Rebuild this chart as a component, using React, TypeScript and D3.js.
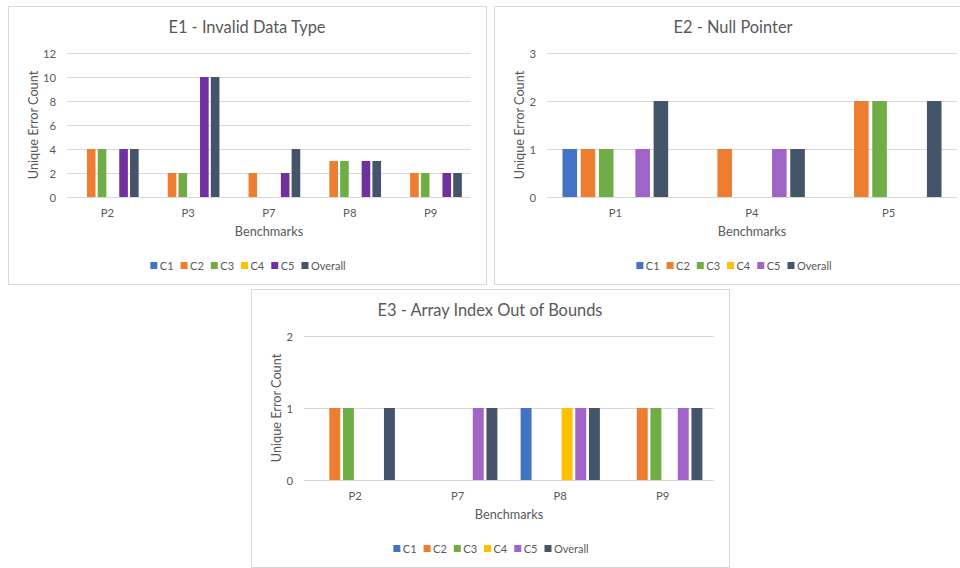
import React from "react";
import * as d3 from "d3";

// Series shared by all three panels
const seriesNames = ["C1", "C2", "C3", "C4", "C5", "Overall"];

// E1 - Invalid Data Type: one row per benchmark, columns follow seriesNames
const e1Categories = ["P2", "P3", "P7", "P8", "P9"];
const e1Counts = [
  [0, 4, 4, 0, 4, 4],
  [0, 2, 2, 0, 10, 10],
  [0, 2, 0, 0, 2, 4],
  [0, 3, 3, 0, 3, 3],
  [0, 2, 2, 0, 2, 2],
];
const e1Max = 12;

// E2 - Null Pointer
const e2Categories = ["P1", "P4", "P5"];
const e2Counts = [
  [1, 1, 1, 0, 1, 2],
  [0, 1, 0, 0, 1, 1],
  [0, 2, 2, 0, 0, 2],
];
const e2Max = 3;

// E3 - Array Index Out of Bounds
const e3Categories = ["P2", "P7", "P8", "P9"];
const e3Counts = [
  [0, 1, 1, 0, 0, 1],
  [0, 0, 0, 0, 1, 1],
  [1, 0, 0, 1, 1, 1],
  [0, 1, 1, 0, 1, 1],
];
const e3Max = 2;

const FONT = "Lato, 'Open Sans', sans-serif";
const TEXT = "#595959";
const GRID = "#d9d9d9";
const paletteDark = ["#4472C4", "#ED7D31", "#70AD47", "#FFC000", "#7030A0", "#44546A"];
const paletteLight = ["#4472C4", "#ED7D31", "#70AD47", "#FFC000", "#A064C8", "#44546A"];

const PANEL_W = 478;
const PANEL_H = 278;

let ctx: CanvasRenderingContext2D | null = null;
function measure(text: string, size: number): number {
  if (!ctx) ctx = document.createElement("canvas").getContext("2d");
  if (!ctx) return text.length * size * 0.5;
  ctx.font = `${size}px ${FONT}`;
  return ctx.measureText(text).width;
}

type PanelProps = {
  x: number;
  y: number;
  title: string;
  categories: string[];
  counts: number[][];
  max: number;
  palette: string[];
  plotLeft: number;
};

function Panel({ x, y, title, categories, counts, max, palette, plotLeft }: PanelProps) {
  const plotRight = 463;
  const plotTop = 47;
  const plotBottom = 191;

  const x0 = d3.scaleBand<string>().domain(categories).range([plotLeft, plotRight]).padding(0);
  const x1 = d3
    .scaleBand<string>()
    .domain(seriesNames)
    .range([0, x0.bandwidth()])
    .paddingInner(0.2)
    .paddingOuter(0.85);
  const yScale = d3.scaleLinear().domain([0, max]).range([plotBottom, plotTop]);
  const ticks = yScale.ticks(max > 6 ? 6 : max);

  // legend layout, centred under the panel
  const legendSize = 11;
  const sw = 7;
  const gap = 7;
  const items = seriesNames.map((name) => ({ name, w: measure(name, legendSize) }));
  const total = items.reduce((s, it) => s + sw + 2.5 + it.w, 0) + gap * (items.length - 1);
  let lx = 240 - total / 2;
  const legendPos = items.map((it) => {
    const p = lx;
    lx += sw + 2.5 + it.w + gap;
    return p;
  });

  return (
    <g transform={`translate(${x},${y})`}>
      <rect x={0.5} y={0.5} width={PANEL_W} height={PANEL_H} fill="#fff" stroke={GRID} />
      <text x={239} y={20.5} textAnchor="middle" dominantBaseline="central" fontSize={16.4} fill={TEXT} fontFamily={FONT}>
        {title}
      </text>
      {ticks.map((t) => (
        <g key={t}>
          <line x1={plotLeft} x2={plotRight} y1={Math.round(yScale(t)) + 0.5} y2={Math.round(yScale(t)) + 0.5} stroke={GRID} />
          <text x={plotLeft - 11} y={yScale(t)} textAnchor="end" dominantBaseline="central" fontSize={11.3} fill={TEXT} fontFamily={FONT}>
            {t}
          </text>
        </g>
      ))}
      {categories.map((c, ci) => (
        <g key={c} transform={`translate(${x0(c)},0)`}>
          {seriesNames.map((s, si) => {
            const v = counts[ci][si];
            if (!v) return null;
            return (
              <rect
                key={s}
                x={x1(s)}
                y={yScale(v)}
                width={x1.bandwidth()}
                height={yScale(0) - yScale(v)}
                fill={palette[si]}
              />
            );
          })}
          <text x={x0.bandwidth() / 2} y={206} textAnchor="middle" dominantBaseline="central" fontSize={11.3} fill={TEXT} fontFamily={FONT}>
            {c}
          </text>
        </g>
      ))}
      <text
        x={(plotLeft + plotRight) / 2}
        y={225}
        textAnchor="middle"
        dominantBaseline="central"
        fontSize={12.7}
        fill={TEXT}
        fontFamily={FONT}
      >
        Benchmarks
      </text>
      <text
        transform={`translate(25,${(plotTop + plotBottom) / 2}) rotate(-90)`}
        textAnchor="middle"
        dominantBaseline="central"
        fontSize={12.7}
        fill={TEXT}
        fontFamily={FONT}
      >
        Unique Error Count
      </text>
      {items.map((it, i) => (
        <g key={it.name} transform={`translate(${legendPos[i]},259.5)`}>
          <rect x={0} y={-sw / 2} width={sw} height={sw} fill={palette[i]} />
          <text x={sw + 2.5} y={0} dominantBaseline="central" fontSize={legendSize} fill={TEXT} fontFamily={FONT}>
            {it.name}
          </text>
        </g>
      ))}
    </g>
  );
}

export default function App() {
  return (
    <svg
      width={960}
      height={568}
      style={{ position: "absolute", left: 0, top: 0, background: "#fff" }}
    >
      <rect width={960} height={568} fill="#fff" />
      <Panel x={8} y={6} title="E1 - Invalid Data Type" categories={e1Categories} counts={e1Counts} max={e1Max} palette={paletteDark} plotLeft={59} />
      <Panel x={494} y={6} title="E2 - Null Pointer" categories={e2Categories} counts={e2Counts} max={e2Max} palette={paletteLight} plotLeft={53} />
      <Panel x={251} y={289} title="E3 - Array Index Out of Bounds" categories={e3Categories} counts={e3Counts} max={e3Max} palette={paletteLight} plotLeft={53} />
    </svg>
  );
}
